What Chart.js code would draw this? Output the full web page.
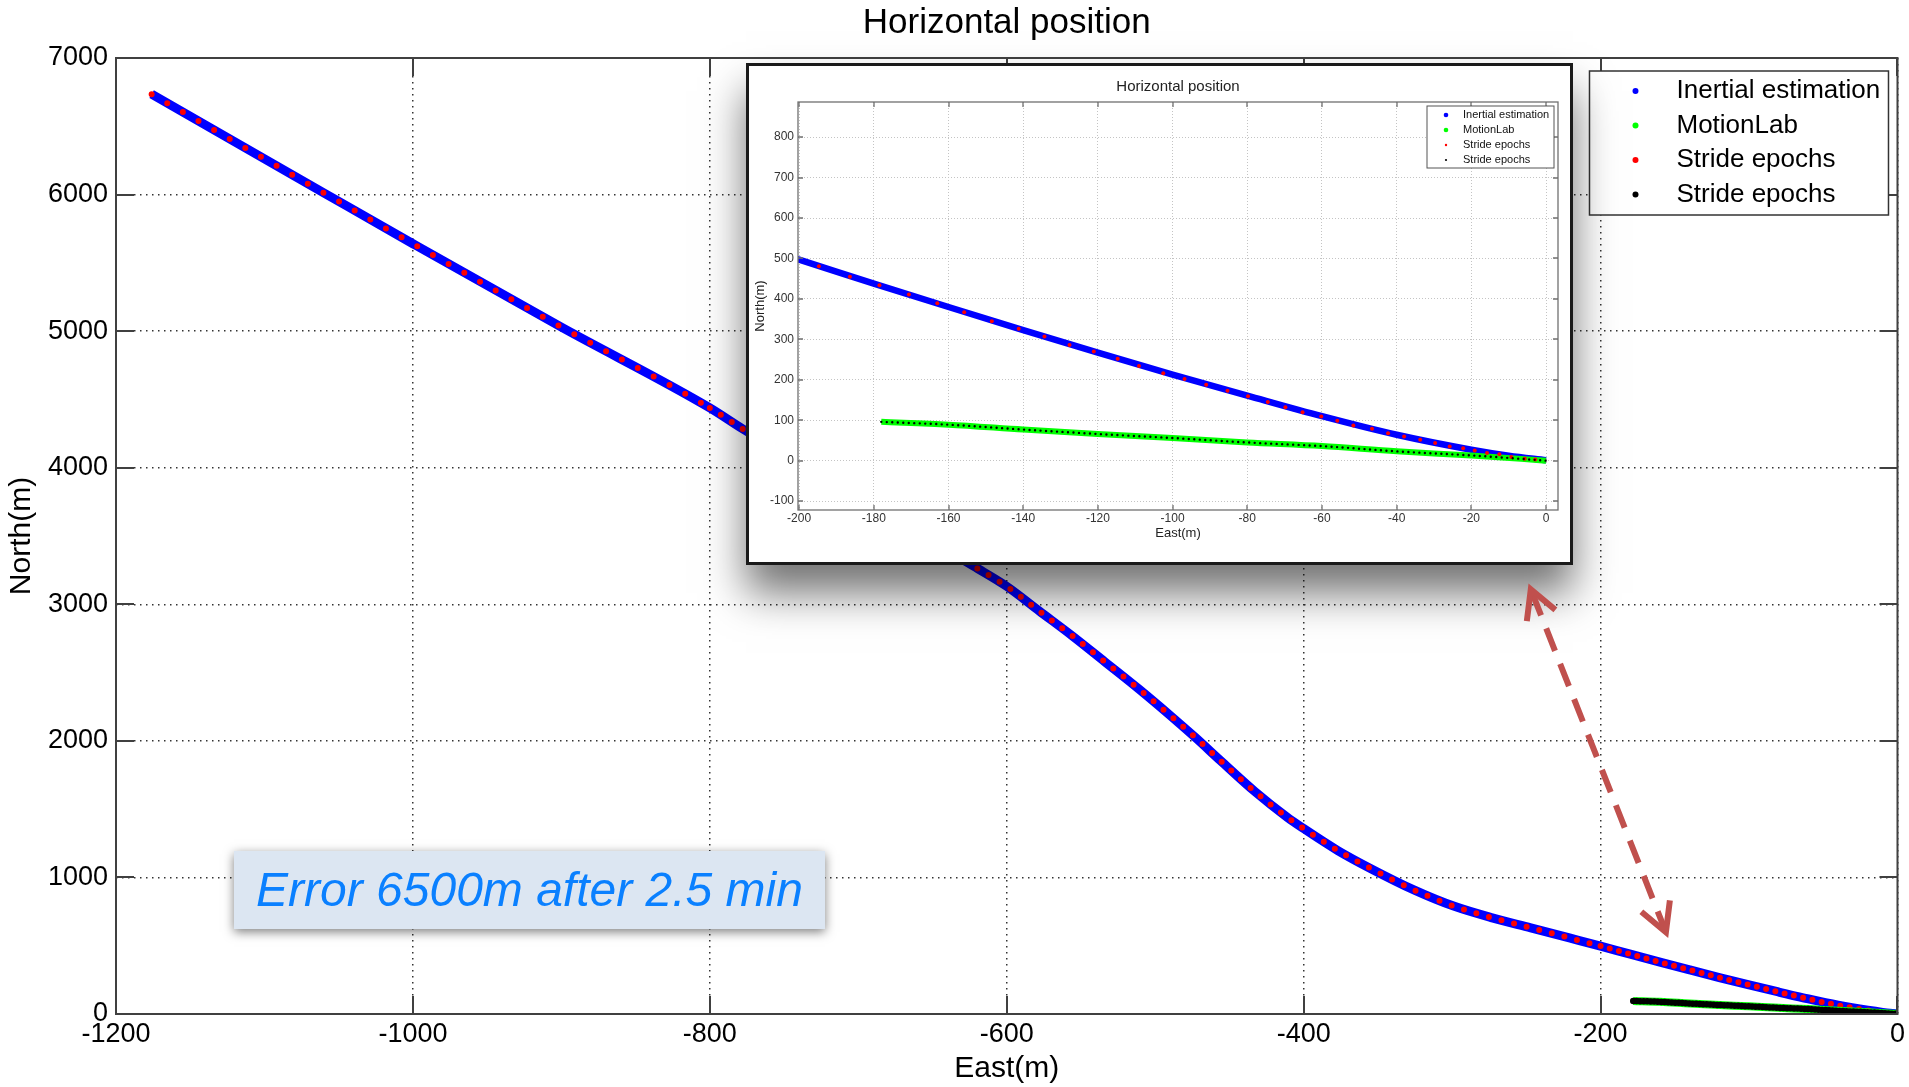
<!DOCTYPE html>
<html lang="en">
<head>
    <meta charset="UTF-8">
    <title>Horizontal position</title>
    <style>
        body { margin: 0; background: #fff; width: 1909px; height: 1087px; overflow: hidden; position: relative;
               font-family: "Liberation Sans", Arial, sans-serif; }
        #main { position: absolute; left: 0; top: 0; }
        /* text box in the lower left */
        .note { position: absolute; left: 234px; top: 851px; width: 591px; height: 78px; background: #dce6f2;
                box-shadow: 0 3px 10px rgba(0,0,0,0.5); color: #0a80ff; font-style: italic; font-size: 48px;
                line-height: 78px; text-align: center; white-space: nowrap; }
        /* zoomed view pasted over the main plot */
        .inset { position: absolute; left: 746px; top: 63px; width: 827px; height: 502px; box-sizing: border-box;
                 border: 3px solid #1a1a1a; background: #fff; box-shadow: 0 28px 40px rgba(0,0,0,0.55); }
        .inset canvas { display: block; }
        #overlay { position: absolute; left: 0; top: 0; pointer-events: none; }
    </style>
    <script src="https://cdn.jsdelivr.net/npm/chart.js"></script>
</head>
<body>

    <canvas id="main" width="1909" height="1087"></canvas>
    <div class="note">Error 6500m after 2.5 min</div>
    <div class="inset"><canvas id="zoom" width="821" height="496"></canvas></div>
    <canvas id="overlay" width="1909" height="1087"></canvas>

    <script>
        // tick labels
        const mainEastTicks = [-1200, -1000, -800, -600, -400, -200, 0];
        const mainNorthTicks = [0, 1000, 2000, 3000, 4000, 5000, 6000, 7000];
        const zoomEastTicks = [-200, -180, -160, -140, -120, -100, -80, -60, -40, -20, 0];
        const zoomNorthTicks = [-100, 0, 100, 200, 300, 400, 500, 600, 700, 800];

        const legendLabels = ['Inertial estimation', 'MotionLab', 'Stride epochs', 'Stride epochs'];

        // inertial estimation track (East, North in m)
        const trackEast = [-1176, -1058, -1000, -900, -800, -778, -622, -600, -578, -556, -534, -511, -489, -473,
                           -456, -433, -411, -400, -377, -355, -325, -299, -273, -247, -221,
                           -200, -180, -160, -140, -120, -100, -80, -60, -40, -20, -10, 0];
        const trackNorth = [6735, 6000, 5640, 5029, 4438, 4285, 3277, 3131, 2950, 2770, 2580, 2380, 2178, 2025,
                            1855, 1630, 1440, 1358, 1197, 1066, 905, 790, 704, 631, 557,
                            497, 438, 380, 323, 267, 213, 161, 110, 64, 27, 12, 1];

        // MotionLab reference track
        const labEast = [-178, -160, -140, -120, -100, -80, -60, -40, -20, 0];
        const labNorth = [96, 89, 77, 66, 56, 45, 36, 23, 13, 0];

        // stride epochs on the inertial track (as seen in the zoomed view)
        const strideEast = [-194.7, -186.4, -178.5, -170.6, -163, -155.8, -148.4, -141.2, -134.3, -127.6, -121.1,
                            -114.7, -109, -102.5, -96.8, -91, -85.3, -79.8, -74.5, -69.8, -65.2, -60.2, -55.9,
                            -51.6, -46.6, -42.3, -38, -33.7, -29.7, -25.8, -22.2, -19.1, -15.8, -12.5, -9.3, -5.7, -2.9];
        const strideNorth = [481, 455, 434, 411, 389, 367, 345, 326, 307, 286, 270, 252, 234, 216, 202, 188, 173,
                             159, 145, 132, 120, 109, 99, 87, 79, 68, 60, 52, 44, 35, 31, 25, 19, 16, 9, 5, 3];

        const FONT = '"Liberation Sans", Arial, sans-serif';
        const pts = (xs, ys) => xs.map((x, i) => ({ x: x, y: ys[i] }));

        // MATLAB style box with inward ticks
        const axesBox = {
            id: 'axesBox',
            afterDatasetsDraw(chart, args, o) {
                const { ctx, chartArea: a, scales: { x, y } } = chart;
                ctx.save();
                ctx.strokeStyle = o.color;
                ctx.lineWidth = o.width;
                ctx.beginPath();
                x.ticks.forEach(t => {
                    const px = Math.round(x.getPixelForValue(t.value));
                    ctx.moveTo(px, a.bottom); ctx.lineTo(px, a.bottom - o.tick);
                    ctx.moveTo(px, a.top); ctx.lineTo(px, a.top + o.tick);
                });
                y.ticks.forEach(t => {
                    const py = Math.round(y.getPixelForValue(t.value));
                    ctx.moveTo(a.left, py); ctx.lineTo(a.left + o.tick, py);
                    ctx.moveTo(a.right, py); ctx.lineTo(a.right - o.tick, py);
                });
                ctx.stroke();
                ctx.strokeRect(a.left, a.top, a.right - a.left, a.bottom - a.top);
                ctx.restore();
            }
        };

        // legend box inside the plot, upper right
        const boxLegend = {
            id: 'boxLegend',
            afterDraw(chart, args, o) {
                const { ctx, chartArea } = chart;
                const x0 = chartArea.right - o.right - o.width;
                const y0 = chartArea.top + o.top;
                ctx.save();
                ctx.fillStyle = '#fff';
                ctx.fillRect(x0, y0, o.width, o.height);
                ctx.strokeStyle = o.borderColor;
                ctx.lineWidth = o.borderWidth;
                ctx.strokeRect(x0, y0, o.width, o.height);
                ctx.font = o.font;
                ctx.textBaseline = 'middle';
                chart.data.datasets.forEach((ds, i) => {
                    const yy = y0 + o.firstRow + i * o.rowHeight;
                    ctx.fillStyle = ds.legendColor;
                    ctx.beginPath();
                    ctx.arc(x0 + o.markerX, yy, ds.legendRadius, 0, Math.PI * 2);
                    ctx.fill();
                    ctx.fillStyle = o.color;
                    ctx.fillText(ds.label, x0 + o.textX, yy);
                });
                ctx.restore();
            }
        };

        // dashed double arrow between the zoomed view and the real tracks
        const arrowFrom = { x: -247, y: 3109 };
        const arrowTo = { x: -156, y: 599 };
        const pointerArrow = {
            id: 'pointerArrow',
            afterDraw(chart) {
                const ctx = document.getElementById('overlay').getContext('2d');
                const { x, y } = chart.scales;
                const x1 = x.getPixelForValue(arrowFrom.x), y1 = y.getPixelForValue(arrowFrom.y);
                const x2 = x.getPixelForValue(arrowTo.x), y2 = y.getPixelForValue(arrowTo.y);
                const ang = Math.atan2(y2 - y1, x2 - x1);
                ctx.clearRect(0, 0, 1909, 1087);
                ctx.save();
                ctx.strokeStyle = '#c0504d';
                ctx.lineWidth = 6;
                ctx.setLineDash([24, 14]);
                ctx.beginPath();
                ctx.moveTo(x1 + Math.cos(ang) * 4, y1 + Math.sin(ang) * 4);
                ctx.lineTo(x2 - Math.cos(ang) * 4, y2 - Math.sin(ang) * 4);
                ctx.stroke();
                ctx.setLineDash([]);
                const head = (hx, hy, a) => {
                    ctx.beginPath();
                    ctx.moveTo(hx + Math.cos(a + 0.5) * 32, hy + Math.sin(a + 0.5) * 32);
                    ctx.lineTo(hx, hy);
                    ctx.lineTo(hx + Math.cos(a - 0.5) * 32, hy + Math.sin(a - 0.5) * 32);
                    ctx.stroke();
                };
                head(x1, y1, ang);
                head(x2, y2, ang + Math.PI);
                ctx.restore();
            }
        };

        // bigger stride gaps far out, where the drift stretches every step
        const strideGap = c => {
            const e = c.p0.parsed.x;
            if (e < -800) return [0, 18];
            if (e < -200) return [0, 13];
            return [0, 9.5];
        };

        new Chart(document.getElementById('main'), {
            type: 'line',
            data: {
                datasets: [{
                    label: legendLabels[0],
                    data: pts(trackEast, trackNorth),
                    borderColor: '#0000ff',
                    borderWidth: 9,
                    pointRadius: 0,
                    cubicInterpolationMode: 'monotone',
                    order: 4,
                    legendColor: '#0000ff',
                    legendRadius: 3
                }, {
                    label: legendLabels[1],
                    data: pts(labEast, labNorth),
                    borderColor: '#00ff00',
                    borderWidth: 8,
                    pointRadius: 0,
                    cubicInterpolationMode: 'monotone',
                    order: 2,
                    legendColor: '#00ff00',
                    legendRadius: 3
                }, {
                    label: legendLabels[2],
                    data: pts(trackEast, trackNorth),
                    borderColor: '#ff0000',
                    borderWidth: 6,
                    borderCapStyle: 'round',
                    pointRadius: 0,
                    cubicInterpolationMode: 'monotone',
                    segment: { borderDash: strideGap },
                    order: 3,
                    legendColor: '#ff0000',
                    legendRadius: 3
                }, {
                    label: legendLabels[3],
                    data: pts(labEast, labNorth),
                    borderColor: '#000000',
                    borderWidth: 6.5,
                    borderCapStyle: 'round',
                    borderDash: [0, 3.5],
                    pointRadius: 0,
                    cubicInterpolationMode: 'monotone',
                    order: 1,
                    legendColor: '#000000',
                    legendRadius: 3
                }]
            },
            options: {
                responsive: false,
                animation: false,
                events: [],
                layout: { padding: { top: 0, right: 8, bottom: 0, left: 0 } },
                scales: {
                    x: {
                        type: 'linear',
                        min: -1200,
                        max: 0,
                        afterBuildTicks: s => { s.ticks = mainEastTicks.map(v => ({ value: v })); },
                        afterFit: s => { s.height = 73; },
                        ticks: { font: { family: FONT, size: 27 }, color: '#000', padding: 4, maxRotation: 0,
                                 autoSkip: false, callback: v => String(v) },
                        grid: { color: '#333', lineWidth: 1.5, drawTicks: false },
                        border: { display: false, dash: [1.5, 4.5] },
                        title: { display: true, text: 'East(m)', color: '#000',
                                 font: { family: FONT, size: 30 }, padding: { top: 0, bottom: 0 } }
                    },
                    y: {
                        type: 'linear',
                        min: 0,
                        max: 7000,
                        afterBuildTicks: s => { s.ticks = mainNorthTicks.map(v => ({ value: v })); },
                        afterFit: s => { s.width = 116; },
                        ticks: { font: { family: FONT, size: 27 }, color: '#000', padding: 8,
                                 autoSkip: false, callback: v => String(v) },
                        grid: { color: '#333', lineWidth: 1.5, drawTicks: false },
                        border: { display: false, dash: [1.5, 4.5] },
                        title: { display: true, text: 'North(m)', color: '#000',
                                 font: { family: FONT, size: 30 }, padding: { top: 4, bottom: 0 } }
                    }
                },
                plugins: {
                    legend: { display: false },
                    tooltip: { enabled: false },
                    title: { display: true, fullSize: false, text: 'Horizontal position', color: '#000',
                             font: { family: FONT, size: 35, weight: 'normal' }, padding: { top: 2, bottom: 14 } },
                    axesBox: { color: '#404040', width: 2, tick: 18 },
                    boxLegend: { right: 9, top: 13, width: 299, height: 144, firstRow: 20, rowHeight: 34.5,
                                 markerX: 46, textX: 87, font: '26px ' + FONT, color: '#000',
                                 borderColor: '#333', borderWidth: 1.5 }
                }
            },
            plugins: [axesBox, boxLegend, pointerArrow]
        });

        // zoomed view of the last 200 m
        new Chart(document.getElementById('zoom'), {
            type: 'line',
            data: {
                datasets: [{
                    label: legendLabels[0],
                    data: pts(trackEast, trackNorth),
                    borderColor: '#0000ff',
                    borderWidth: 6.5,
                    pointRadius: 0,
                    cubicInterpolationMode: 'monotone',
                    clip: 0,
                    order: 4,
                    legendColor: '#0000ff',
                    legendRadius: 2.3
                }, {
                    label: legendLabels[1],
                    data: pts(labEast, labNorth),
                    borderColor: '#00ff00',
                    borderWidth: 6,
                    pointRadius: 0,
                    cubicInterpolationMode: 'monotone',
                    clip: 0,
                    order: 3,
                    legendColor: '#00ff00',
                    legendRadius: 2.3
                }, {
                    label: legendLabels[2],
                    data: pts(strideEast, strideNorth),
                    showLine: false,
                    pointRadius: 2,
                    pointBorderWidth: 0,
                    pointBackgroundColor: '#ff0000',
                    clip: 0,
                    order: 2,
                    legendColor: '#ff0000',
                    legendRadius: 1.2
                }, {
                    label: legendLabels[3],
                    data: pts(labEast, labNorth),
                    borderColor: '#000000',
                    borderWidth: 2.4,
                    borderCapStyle: 'round',
                    borderDash: [0, 5.5],
                    pointRadius: 0,
                    cubicInterpolationMode: 'monotone',
                    clip: 0,
                    order: 1,
                    legendColor: '#000000',
                    legendRadius: 1.1
                }]
            },
            options: {
                responsive: false,
                animation: false,
                events: [],
                layout: { padding: { top: 0, right: 12, bottom: 0, left: 0 } },
                scales: {
                    x: {
                        type: 'linear',
                        min: -200.3,
                        max: 3.2,
                        afterBuildTicks: s => { s.ticks = zoomEastTicks.map(v => ({ value: v })); },
                        afterFit: s => { s.height = 52; },
                        ticks: { font: { family: FONT, size: 12 }, color: '#333', padding: 1, maxRotation: 0,
                                 autoSkip: false, callback: v => String(v) },
                        grid: { color: '#c4c4c4', lineWidth: 1, drawTicks: false },
                        border: { display: false, dash: [1, 2] },
                        title: { display: true, text: 'East(m)', color: '#222',
                                 font: { family: FONT, size: 13 }, padding: { top: 0, bottom: 21 } }
                    },
                    y: {
                        type: 'linear',
                        min: -122,
                        max: 887,
                        afterBuildTicks: s => { s.ticks = zoomNorthTicks.map(v => ({ value: v })); },
                        afterFit: s => { s.width = 49; },
                        ticks: { font: { family: FONT, size: 12 }, color: '#333', padding: 4,
                                 autoSkip: false, callback: v => String(v) },
                        grid: { color: '#c4c4c4', lineWidth: 1, drawTicks: false },
                        border: { display: false, dash: [1, 2] },
                        title: { display: true, text: 'North(m)', color: '#222',
                                 font: { family: FONT, size: 13 }, padding: { top: 4, bottom: 0 } }
                    }
                },
                plugins: {
                    legend: { display: false },
                    tooltip: { enabled: false },
                    title: { display: true, fullSize: false, text: 'Horizontal position', color: '#222',
                             font: { family: FONT, size: 15, weight: 'normal' }, padding: { top: 12, bottom: 6 } },
                    axesBox: { color: '#707070', width: 1.3, tick: 5 },
                    boxLegend: { right: 4, top: 4, width: 127, height: 62, firstRow: 9, rowHeight: 15,
                                 markerX: 19, textX: 36, font: '11px ' + FONT, color: '#111',
                                 borderColor: '#555', borderWidth: 1 }
                }
            },
            plugins: [axesBox, boxLegend]
        });
    </script>

</body>
</html>
